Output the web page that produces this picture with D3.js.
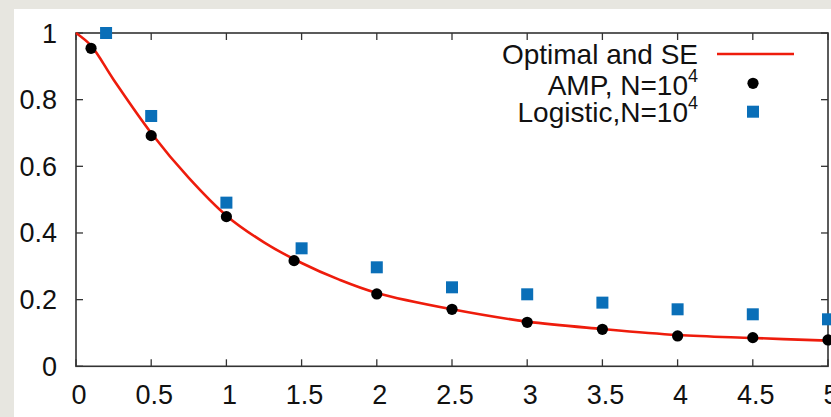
<!DOCTYPE html>
<html><head><meta charset="utf-8">
<script src="https://cdn.jsdelivr.net/npm/d3@7"></script>
<style>
html,body{margin:0;padding:0;background:#e7e6e0;}
svg{display:block;}
text{font-family:"Liberation Sans",Arial,sans-serif;fill:#111;}
</style></head>
<body><svg id="c" width="831" height="417"></svg>
<script>
// Data
const curveX = [0, 0.1, 0.25, 0.5, 0.75, 1, 1.25, 1.5, 1.75, 2, 2.5, 3, 3.5, 4, 4.5, 5];
const curveY = [1, 0.962, 0.86, 0.70, 0.565, 0.452, 0.372, 0.31, 0.26, 0.22, 0.171, 0.134, 0.112, 0.094, 0.085, 0.077];
const ampX = [0.1, 0.5, 1, 1.45, 2, 2.5, 3, 3.5, 4, 4.5, 5];
const ampY = [0.954, 0.692, 0.449, 0.317, 0.217, 0.171, 0.132, 0.111, 0.091, 0.086, 0.079];
const logX = [0.2, 0.5, 1, 1.5, 2, 2.5, 3, 3.5, 4, 4.5, 5];
const logY = [1.0, 0.751, 0.491, 0.354, 0.297, 0.237, 0.216, 0.191, 0.171, 0.156, 0.141];
const xTicks = [0, 0.5, 1, 1.5, 2, 2.5, 3, 3.5, 4, 4.5, 5];
const yTicks = [0, 0.2, 0.4, 0.6, 0.8, 1];
const legendLabels = ["Optimal and SE", "AMP, N=10", "Logistic,N=10"];

const svg = d3.select("#c");
// white panel
svg.append("rect").attr("x",14).attr("y",9).attr("width",817).attr("height",408).attr("fill","#fff");

const L=76, R=828, T=33, B=366.3;
const x = d3.scaleLinear().domain([0,5]).range([L,R]);
const y = d3.scaleLinear().domain([0,1]).range([B,T]);
const axisCol = "#333";
const tl = 7;

const g = svg.append("g");
// ticks (inward, mirrored)
xTicks.forEach(t=>{
  g.append("line").attr("x1",x(t)).attr("x2",x(t)).attr("y1",B).attr("y2",B-tl).attr("stroke",axisCol).attr("stroke-width",1.3);
  g.append("line").attr("x1",x(t)).attr("x2",x(t)).attr("y1",T).attr("y2",T+tl).attr("stroke",axisCol).attr("stroke-width",1.3);
  g.append("text").attr("x",x(t)+3).attr("y",404).attr("text-anchor","middle").attr("font-size",27).text(d3.format("~g")(t));
});
yTicks.forEach(t=>{
  g.append("line").attr("y1",y(t)).attr("y2",y(t)).attr("x1",L).attr("x2",L+tl).attr("stroke",axisCol).attr("stroke-width",1.3);
  g.append("line").attr("y1",y(t)).attr("y2",y(t)).attr("x1",R).attr("x2",R-tl).attr("stroke",axisCol).attr("stroke-width",1.3);
  g.append("text").attr("x",57).attr("y",y(t)+9.5).attr("text-anchor","end").attr("font-size",27).text(d3.format("~g")(t));
});
g.append("rect").attr("x",L).attr("y",T).attr("width",R-L).attr("height",B-T).attr("fill","none").attr("stroke",axisCol).attr("stroke-width",1.6);

// curve
const line = d3.line().x(d=>x(d[0])).y(d=>y(d[1])).curve(d3.curveCatmullRom.alpha(0.5));
svg.append("path").datum(curveX.map((v,i)=>[v,curveY[i]])).attr("d",line)
  .attr("fill","none").attr("stroke","#ee1c0c").attr("stroke-width",2.6);

// logistic squares
const s = 12;
svg.selectAll("rect.lg").data(logX.map((v,i)=>[v,logY[i]])).enter().append("rect")
  .attr("x",d=>x(d[0])-s/2).attr("y",d=>y(d[1])-s/2).attr("width",s).attr("height",s).attr("fill","#0a6fb8");
// AMP dots
svg.selectAll("circle.amp").data(ampX.map((v,i)=>[v,ampY[i]])).enter().append("circle")
  .attr("cx",d=>x(d[0])).attr("cy",d=>y(d[1])).attr("r",5.6).attr("fill","#000");

// legend
const lx = 698, rowY = [54, 83.3, 111.7];
const lg = svg.append("g");
legendLabels.forEach((lab,i)=>{
  const t = lg.append("text").attr("x",lx).attr("y",rowY[i]+10 + (i===1?2:0)).attr("text-anchor","end").attr("font-size",28);
  t.append("tspan").text(lab);
  if(i>0) t.append("tspan").attr("font-size",18).attr("dy",-13).text("4");
});
lg.append("line").attr("x1",717).attr("x2",794).attr("y1",rowY[0]).attr("y2",rowY[0]).attr("stroke","#ee1c0c").attr("stroke-width",2.6);
lg.append("circle").attr("cx",753).attr("cy",rowY[1]).attr("r",5.6).attr("fill","#000");
lg.append("rect").attr("x",753-s/2).attr("y",rowY[2]-s/2).attr("width",s).attr("height",s).attr("fill","#0a6fb8");
</script></body></html>
